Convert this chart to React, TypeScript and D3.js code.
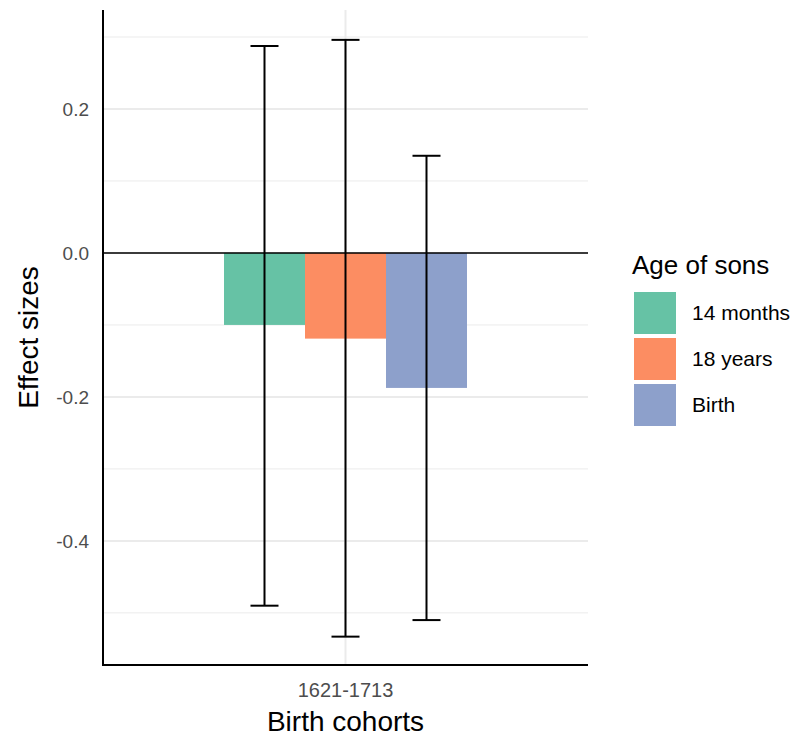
import React from "react";
import * as d3 from "d3";

const groups = ["14 months", "18 years", "Birth"];
const values = [-0.1, -0.119, -0.1875];
const lower = [-0.49, -0.533, -0.51];
const upper = [0.2875, 0.296, 0.135];
const colors = ["#66c2a5", "#fc8d62", "#8da0cb"];
const majorTicks = [0.2, 0.0, -0.2, -0.4];
const minorTicks = [0.3, 0.1, -0.1, -0.3, -0.5];
const category = "1621-1713";

export default function App() {
  const left = 103, right = 588, top = 10, bottom = 665;
  const y = d3.scaleLinear().domain([-0.5724, 0.3375]).range([bottom, top]);
  const xc = d3.scaleBand().domain([category]).range([left, right]).paddingInner(0.1).paddingOuter(0.25);
  const cx = (xc(category) as number) + xc.bandwidth() / 2;
  const x = d3.scaleBand().domain(groups).range([cx - 121.5, cx + 121.5]);
  const font = "Arial, 'Liberation Sans', sans-serif";
  const fmt = (t: number) => d3.format(".1f")(t).replace("\u2212", "-");
  return (
    <svg width={808} height={738} style={{ position: "absolute", left: 0, top: 0 }} fontFamily={font}>
      <rect width={808} height={738} fill="#fff" />
      {minorTicks.map((t) => (
        <line key={"m" + t} x1={left} x2={right} y1={y(t)} y2={y(t)} stroke="#ebebeb" strokeWidth={1} />
      ))}
      {majorTicks.map((t) => (
        <line key={"M" + t} x1={left} x2={right} y1={y(t)} y2={y(t)} stroke="#ebebeb" strokeWidth={2} />
      ))}
      <line x1={cx} x2={cx} y1={top} y2={bottom} stroke="#ebebeb" strokeWidth={2} />
      {groups.map((g, i) => (
        <rect key={g} x={x(g)} width={x.bandwidth()} y={y(0)} height={y(values[i]) - y(0)} fill={colors[i]} />
      ))}
      <line x1={left} x2={right} y1={y(0)} y2={y(0)} stroke="#000" strokeWidth={1.5} />
      {groups.map((g, i) => {
        const c = (x(g) as number) + x.bandwidth() / 2;
        return (
          <g key={"e" + g} stroke="#000" strokeWidth={2}>
            <line x1={c} x2={c} y1={y(upper[i])} y2={y(lower[i])} />
            <line x1={c - 14} x2={c + 14} y1={y(upper[i])} y2={y(upper[i])} />
            <line x1={c - 14} x2={c + 14} y1={y(lower[i])} y2={y(lower[i])} />
          </g>
        );
      })}
      <line x1={left} x2={left} y1={top} y2={bottom + 1} stroke="#000" strokeWidth={2} />
      <line x1={left - 1} x2={right} y1={bottom} y2={bottom} stroke="#000" strokeWidth={2} />
      {majorTicks.map((t) => (
        <text key={"t" + t} x={left - 14} y={y(t)} dy="0.35em" textAnchor="end" fontSize={19} fill="#4d4d4d">
          {fmt(t)}
        </text>
      ))}
      <text x={cx} y={697} textAnchor="middle" fontSize={20} fill="#4d4d4d">{category}</text>
      <text x={cx} y={731} textAnchor="middle" fontSize={28} fill="#000">Birth cohorts</text>
      <text transform={`translate(38,${(top + bottom) / 2}) rotate(-90)`} textAnchor="middle" fontSize={28} fill="#000">Effect sizes</text>
      <text x={632} y={274} fontSize={26} fill="#000">Age of sons</text>
      {groups.map((g, i) => (
        <g key={"l" + g}>
          <rect x={634} y={292 + i * 46} width={42} height={42} fill={colors[i]} />
          <text x={692} y={313 + i * 46} dy="0.35em" fontSize={21} fill="#000">{g}</text>
        </g>
      ))}
    </svg>
  );
}
